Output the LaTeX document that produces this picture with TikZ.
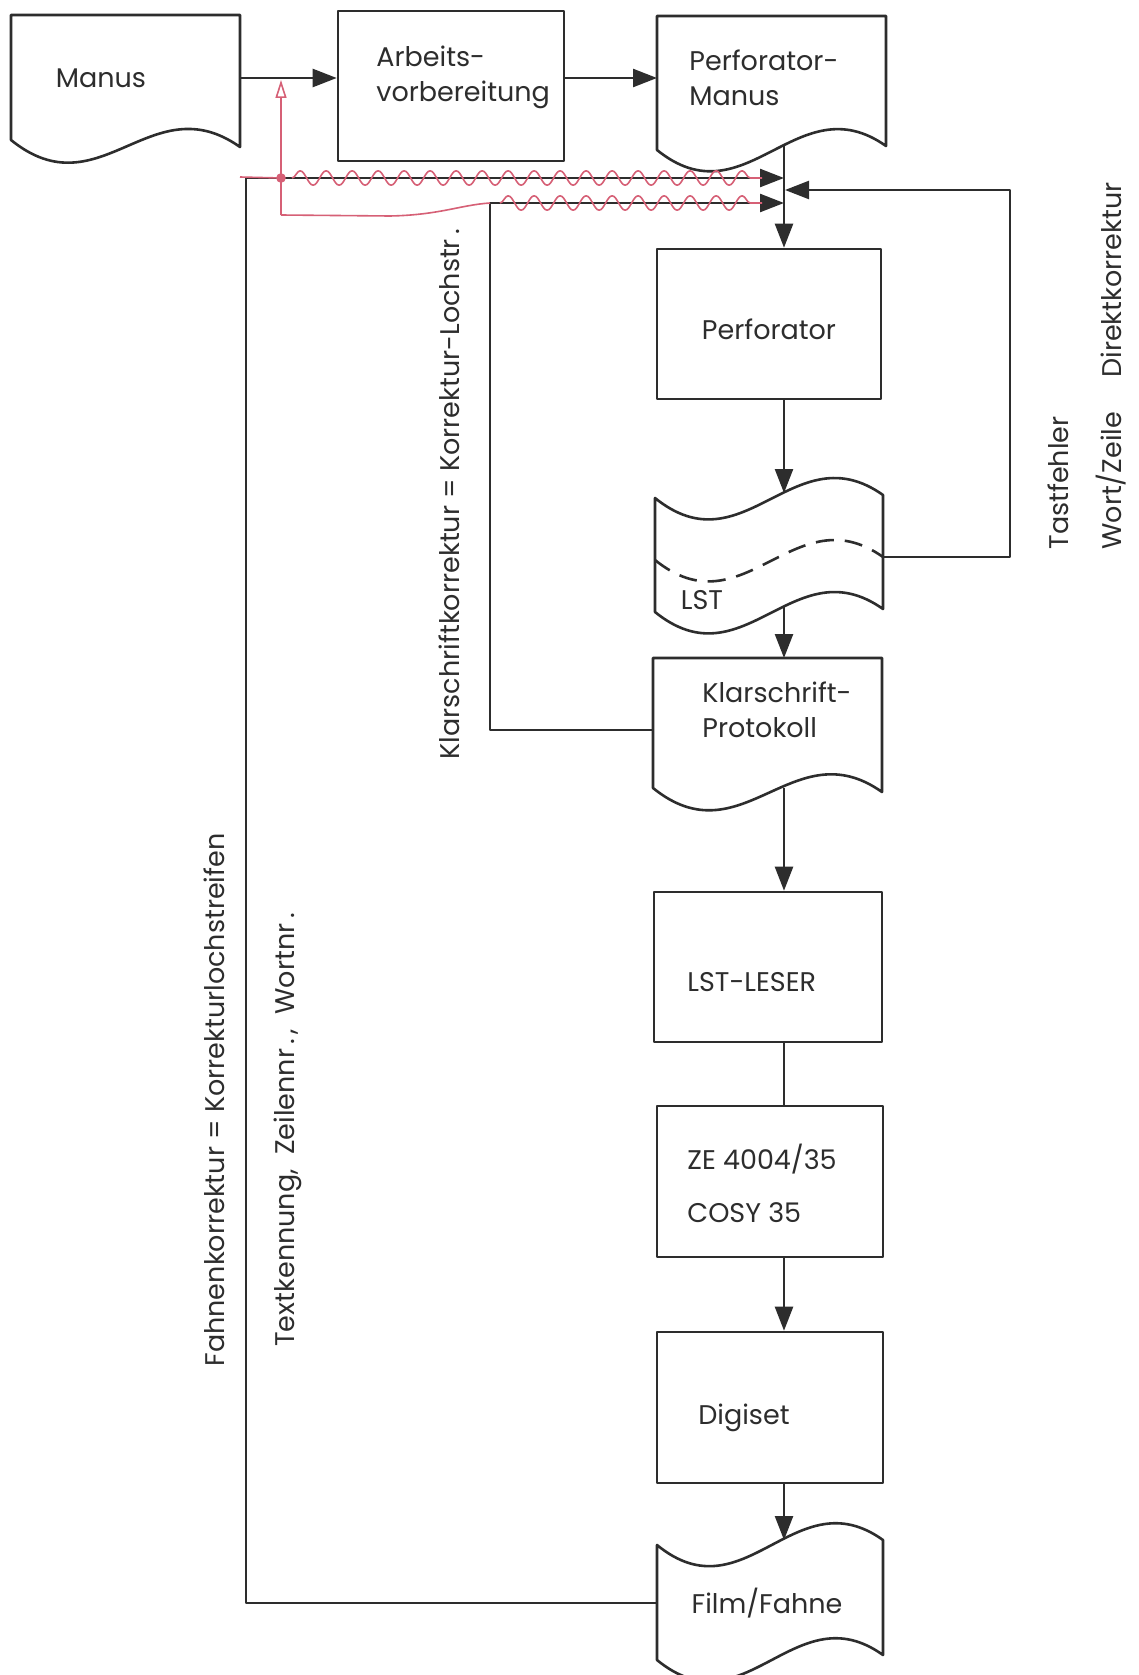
\documentclass[tikz,border=0pt]{standalone}
\usepackage{fontspec}
\setmainfont{Poppins}
\usetikzlibrary{arrows.meta,decorations.pathmorphing}
\definecolor{ink}{RGB}{45,45,45}
\definecolor{redpen}{RGB}{214,96,118}
\begin{document}
\begin{tikzpicture}[x=0.5pt,y=-0.5pt,line join=round,
  lbl/.style={font=\fontsize{13.5}{17.5}\selectfont, inner sep=0pt, text=ink},
  lblz/.style={font=\fontsize{13.5}{26.5}\selectfont, inner sep=0pt, text=ink},
  box/.style={draw=ink, line width=1.3pt, minimum width=113pt, minimum height=75pt, inner sep=0pt},
  outl/.style={draw=ink, line width=1.3pt, fill=white},
  conn/.style={draw=ink, line width=1.2pt},
  arr/.style={conn, -{Triangle[length=12pt,width=9pt]}},
  redl/.style={draw=redpen, line width=0.8pt},
  wig/.style={redl, decorate, decoration={snake, segment length=13pt, amplitude=3.6pt}}]
\fill[white] (0,0) rectangle (1139,1675);
\useasboundingbox (0,0) rectangle (1139,1675);

% ---- shapes ----
% Manus (document)
\path[outl] (11,15) -- (240,15) -- (240,147) .. controls (151,84) and (100,212) .. (11,140) -- cycle;
\node[lbl] (manusT) at (101,78) {Manus};
\coordinate (manusE) at (240,78);

% Arbeitsvorbereitung
\node[box, minimum height=75pt] (arb) at (451,86) {};
\node[lbl, align=left, anchor=west] (arbT) at (376,77) {Arbeits-\\vorbereitung};

% Perforator-Manus (document)
\path[outl] (657,16) -- (886,16) -- (886,146) .. controls (797,83) and (746,222) .. (657,150) -- cycle;
\node[lbl, align=left, anchor=west] (pmT) at (689,78) {Perforator-\\Manus};
\coordinate (pmW) at (657,78);
\coordinate (pmS) at (784,145);

% Perforator
\node[box, minimum width=112pt] (perf) at (769,324) {};
\node[lbl] (perfT) at (769,329) {Perforator};

% LST (punched tape)
\path[outl] (655,498) .. controls (744,570) and (794,432) .. (883,495) -- (883,609)
  .. controls (794,546) and (744,684) .. (655,612) -- cycle;
\draw[draw=ink, line width=1.3pt, dash pattern=on 9pt off 5.5pt]
  (655,560) .. controls (744,632) and (794,494) .. (883,557);
\node[lbl] (lstTxt) at (702,600) {LST};
\coordinate (lstT) at (784,493);
\coordinate (lstB) at (784,607);
\coordinate (lstR) at (883,557);

% Klarschrift-Protokoll (document)
\path[outl] (653,658) -- (882,658) -- (882,792) .. controls (793,729) and (742,860) .. (653,788) -- cycle;
\node[lbl, align=left, anchor=west] (kpT) at (702,710) {Klarschrift-\\Protokoll};
\coordinate (kpN) at (784,658);
\coordinate (kpS) at (784,788);
\coordinate (kpW) at (653,730);

% LST-LESER
\node[box, minimum width=114pt] (leser) at (768,967) {};
\node[lbl, anchor=west] (leserT) at (687,982) {LST-LESER};

% ZE 4004/35
\node[box, minimum height=75.5pt] (ze) at (770,1181.5) {};
\node[lblz, align=left, anchor=west] (zeT) at (687,1183.5) {ZE 4004/35\\COSY 35};

% Digiset
\node[box, minimum height=75.5pt] (digi) at (770,1407.5) {};
\node[lbl] (digiT) at (744,1418) {Digiset};

% Film/Fahne (tape)
\path[outl] (657,1545) .. controls (745,1617) and (795,1477) .. (883,1540) -- (883,1655)
  .. controls (795,1592) and (745,1732) .. (657,1660) -- cycle;
\node[lbl] (filmT) at (767,1603) {Film/Fahne};
\coordinate (filmN) at (784,1540);
\coordinate (filmW) at (657,1603);

% ---- main flow ----
\draw[arr] (manusE) -- (manusE -| arb.west);
\draw[arr] (manusE -| arb.east) -- (pmW);
\draw[arr] (pmS) -- (pmS |- perf.north);
\draw[arr] (pmS |- perf.south) -- (lstT);
\draw[arr] (lstB) -- (kpN);
\draw[arr] (kpS) -- (kpS |- leser.north);
\draw[conn] (kpS |- leser.south) -- (kpS |- ze.north);
\draw[arr] (kpS |- ze.south) -- (kpS |- digi.north);
\draw[arr] (kpS |- digi.south) -- (filmN);

% ---- feedback loops ----
\coordinate (fa1) at (246,1603);
\coordinate (fa2) at (246,178);
\coordinate (faE) at (784,178);
\draw[arr] (filmW) -- (fa1) -- (fa2) -- (faE);

\coordinate (kl1) at (490,730);
\coordinate (kl2) at (490,203);
\coordinate (klE) at (784,203);
\draw[arr] (kpW) -- (kl1) -- (kl2) -- (klE);

\coordinate (dk1) at (1010,557);
\coordinate (dk2) at (1010,190);
\coordinate (dkE) at (785,190);
\draw[arr] (lstR) -- (dk1) -- (dk2) -- (dkE);

% ---- rotated labels ----
\node[lbl, rotate=90] (fahnT) at (214,1100) {Fahnenkorrektur = Korrekturlochstreifen};
\node[lbl, rotate=90] (textkT) at (288,1130) {Textkennung,\ \ Zeilennr\,.\,,\ \ Wortnr\,.};
\node[lbl, rotate=90] (klarT) at (449,494) {Klarschriftkorrektur = Korrektur-Lochstr\,.};
\node[lbl, rotate=90, anchor=west] (tastT) at (1058,550) {Tastfehler};
\node[lbl, rotate=90, anchor=west] (wortT) at (1111,550) {Wort/Zeile};
\node[lbl, rotate=90] (direktT) at (1111,280) {Direktkorrektur};

% ---- red pen annotations ----
\coordinate (rTop) at (281,80);
\coordinate (rDot) at (281,178);
\coordinate (rLow) at (281,215);
\draw[redl, -{Triangle[open,length=9pt,width=5.5pt]}] (rLow) -- (rTop);
\fill[redpen] (rDot) circle (2.4pt);
\draw[redl] (240,177) -- (rDot);
\draw[redl] (rLow) -- (390,216) .. controls (440,215) and (460,205) .. (kl2);
\draw[wig] (292,178) -- (762,178);
\draw[wig] (500,203) -- (762,203);
\end{tikzpicture}
\end{document}
